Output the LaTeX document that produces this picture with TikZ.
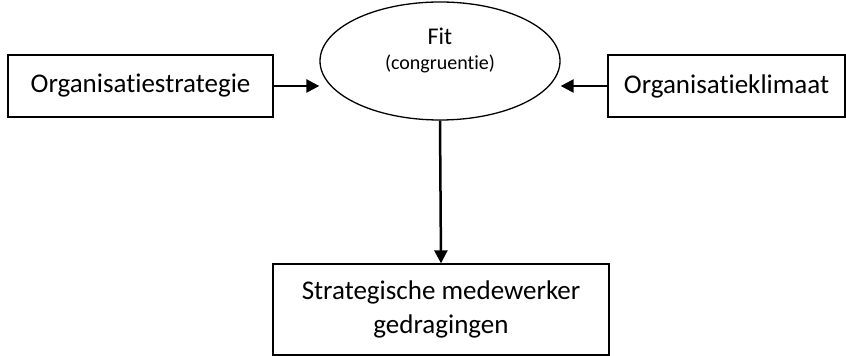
\documentclass[tikz,border=0pt]{standalone}
\usepackage{fontspec}
\setmainfont{Carlito}[Ligatures=NoCommon]
\usetikzlibrary{shapes.geometric,arrows.meta}
\begin{document}
\begin{tikzpicture}[x=1pt,y=1pt,
  box/.style={draw,line width=1.3pt,rectangle,inner sep=0pt,font=\fontsize{27}{34}\selectfont,align=center},
  conn/.style={line width=2.5pt,-{Triangle[length=13pt,width=13pt]}}]
\useasboundingbox (0,0) rectangle (846,356);
\node[box,minimum width=265pt,minimum height=62pt] (strat) at (140.5,270) {Organisatiestrategie};
\node[box,minimum width=237pt,minimum height=62pt] (klim) at (726.5,270) {Organisatieklimaat};
\node[box,minimum width=336pt,minimum height=91pt] (gedrag) at (441,46.5) {Strategische medewerker\\gedragingen};
\node[draw,line width=1.3pt,ellipse,minimum width=240pt,minimum height=118pt,inner sep=0pt] (fit) at (440,295) {};
\node[align=center,inner sep=0pt,font=\fontsize{24}{25}\selectfont] (fittext) at (440,306) {Fit\\\fontsize{20}{25}\selectfont (congruentie)};
\draw[conn] (strat.east) -- (strat.east -| fit.west);
\draw[conn] (klim.west) -- (klim.west -| fit.east);
\draw[conn] (fit.south) -- (gedrag.north);
\end{tikzpicture}
\end{document}
